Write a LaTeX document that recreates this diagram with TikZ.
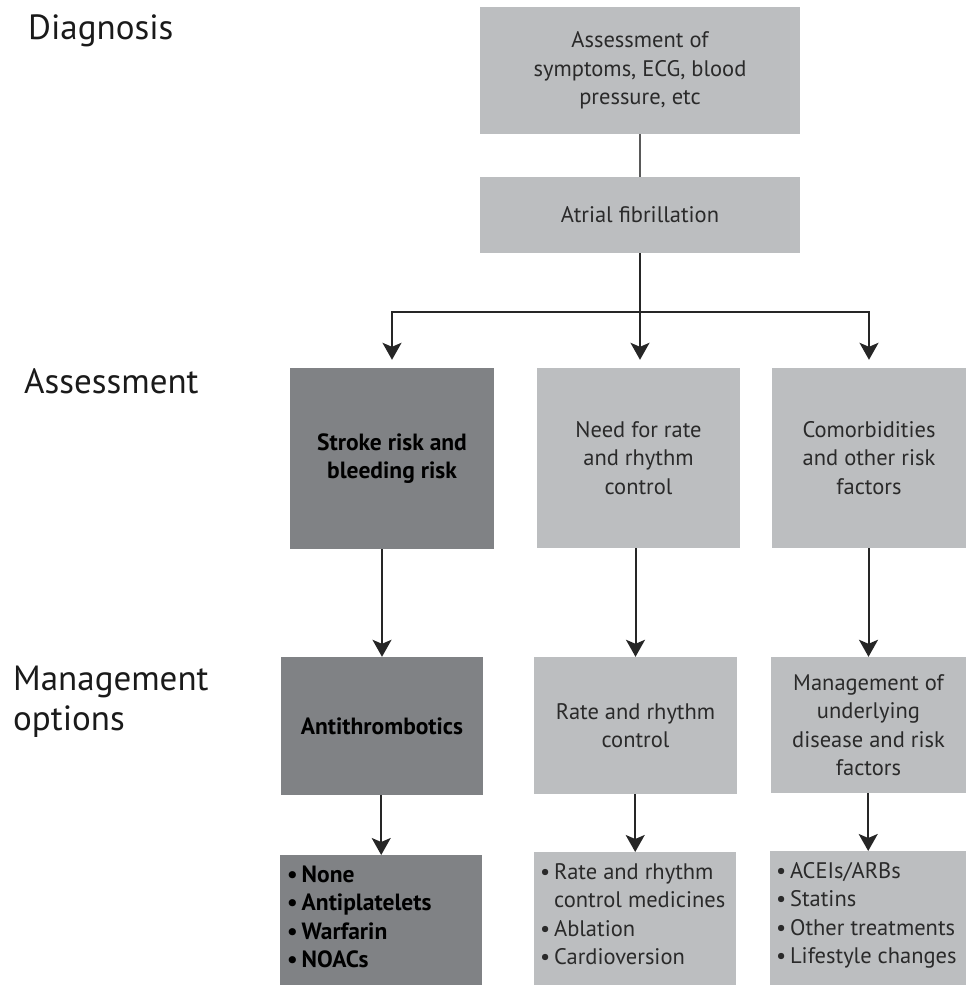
\documentclass[tikz,border=0pt]{standalone}
\usepackage{fontspec}
\setmainfont{PT Sans}
\usetikzlibrary{arrows.meta,calc}
\definecolor{lgray}{HTML}{BCBEC0}
\definecolor{dgray}{HTML}{808285}
\definecolor{txtgray}{HTML}{2A2A2A}
\definecolor{lbltxt}{HTML}{1A1A1A}
\newcommand\bxfont{\fontsize{22.5}{28.5}\selectfont}
\newcommand\bdfont{\fontsize{23.5}{28.5}\selectfont\bfseries}
\newcommand\lbfont{\fontsize{35}{40}\selectfont}
\begin{document}
\begin{tikzpicture}[x=1pt,y=-1pt,
  lbox/.style={fill=lgray, draw=none, inner sep=0pt, align=center, text=txtgray, font=\bxfont},
  dbox/.style={fill=dgray, draw=none, inner sep=0pt, align=center, text=black, font=\bdfont},
  listtxt/.style={anchor=base west, inner sep=0pt},
  sidelabel/.style={anchor=base west, inner sep=0pt, text=lbltxt, font=\lbfont},
  arr/.style={-{Stealth[length=17pt,width=19pt,inset=4pt]}, line width=2pt, draw=black!85},
  plain/.style={line width=2pt, draw=black!85},
  thin/.style={line width=1.5pt, draw=black!65}]
\useasboundingbox (0,0) rectangle (968,985);
% side labels
\node[sidelabel] (ldiag) at (28,39) {Diagnosis};
\node[sidelabel] (lass) at (24,393) {Assessment};
\node[sidelabel] (lman) at (13,690) {\parbox[t]{250pt}{\raggedright Management\\options}};
% boxes
\node[lbox, minimum width=320, minimum height=127] (top) at (640,70.5) {Assessment of\\symptoms, ECG, blood\\pressure, etc};
\node[lbox, minimum width=320, minimum height=76] (af) at (640,215) {Atrial fibrillation};
\node[dbox, minimum width=204, minimum height=181] (s1) at (392,458.5) {Stroke risk and\\bleeding risk};
\node[lbox, minimum width=203, minimum height=180] (s2) at (638.5,458) {Need for rate\\and rhythm\\control};
\node[lbox, minimum width=194, minimum height=180] (s3) at (869,458) {Comorbidities\\and other risk\\factors};
\node[dbox, minimum width=202, minimum height=138] (m1) at (382,726) {Antithrombotics};
\node[lbox, minimum width=203, minimum height=137] (m2) at (635.5,725.5) {Rate and rhythm\\control};
\node[lbox, minimum width=195, minimum height=136] (m3) at (868.5,725) {Management of\\underlying\\disease and risk\\factors};
\node[dbox, anchor=north west, minimum width=202, minimum height=140] (b1) at (280,855) {};
\node[lbox, anchor=north west, minimum width=202, minimum height=140] (b2) at (534,852) {};
\node[lbox, anchor=north west, minimum width=196, minimum height=140] (b3) at (770,851) {};
% list texts
\node[listtxt, text=black, font=\bdfont] (b1t) at ($(b1.north west)+(7,27)$)
  {\parbox[t]{195pt}{\raggedright \textbullet\,None\\\textbullet\,Antiplatelets\\\textbullet\,Warfarin\\\textbullet\,NOACs}};
\node[listtxt, text=txtgray, font=\bxfont] (b2t) at ($(b2.north west)+(6,27)$)
  {\parbox[t]{198pt}{\raggedright \textbullet\,Rate and rhythm\\\hphantom{\textbullet\,}control medicines\\\textbullet\,Ablation\\\textbullet\,Cardioversion}};
\node[listtxt, text=txtgray, font=\bxfont] (b3t) at ($(b3.north west)+(6,27)$)
  {\parbox[t]{198pt}{\raggedright \textbullet\,ACEIs/ARBs\\\textbullet\,Statins\\\textbullet\,Other treatments\\\textbullet\,Lifestyle changes}};
% connectors
\coordinate (hub) at (640,312);
\draw[thin] (top.south) -- (af.north);
\draw[plain] (af.south) -- (hub);
\draw[arr, shorten >=8pt] (hub) -| (s1.north);
\draw[arr, shorten >=8pt] (hub) -- (hub |- s2.north);
\draw[arr, shorten >=8pt] (hub) -| (s3.north);
\draw[arr] (m1.north |- s1.south) -- (m1.north);
\draw[arr] (m2.north |- s2.south) -- (m2.north);
\draw[arr] (m3.north |- s3.south) -- (m3.north);
\draw[arr] (b1.north |- m1.south) -- (b1.north);
\draw[arr] (b2.north |- m2.south) -- (b2.north);
\draw[arr] (b3.north |- m3.south) -- (b3.north);
\end{tikzpicture}
\end{document}
